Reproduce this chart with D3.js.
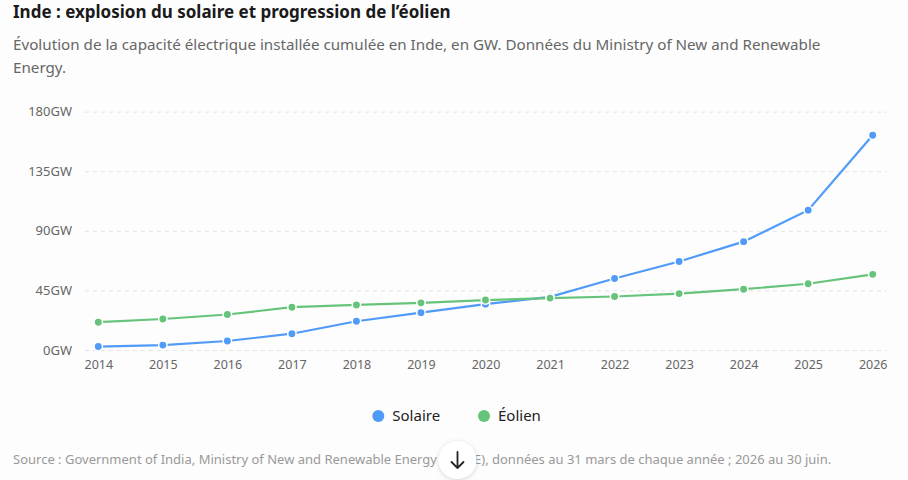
<!DOCTYPE html>
<html>
<head>
<meta charset="utf-8">
<script src="https://cdn.jsdelivr.net/npm/d3@7"></script>
<style>
  body { margin: 0; background: #fdfdfd; font-family: "Noto Sans", "Open Sans", sans-serif; }
  svg { display: block; }
</style>
</head>
<body>
<svg id="chart"></svg>
<script>
var years = [2014, 2015, 2016, 2017, 2018, 2019, 2020, 2021, 2022, 2023, 2024, 2025, 2026];
var solaire = [2.6, 3.7, 6.8, 12.3, 21.7, 28.2, 34.6, 40.1, 54.0, 66.8, 81.8, 105.6, 162.1];
var eolien = [21.0, 23.4, 26.8, 32.3, 34.0, 35.6, 37.7, 39.2, 40.4, 42.6, 45.9, 50.0, 57.1];
var yTicks = [0, 45, 90, 135, 180];

var series = [
  { name: "Solaire", color: "#4f9bf7", values: solaire },
  { name: "Éolien", color: "#66c47a", values: eolien }
];

var width = 908, height = 480;
var svg = d3.select("#chart").attr("width", width).attr("height", height);

var x = d3.scaleLinear().domain([2014, 2026]).range([98.3, 872.7]);
var y = d3.scaleLinear().domain([0, 180]).range([350, 111.6]);

// titles
svg.append("text")
  .attr("x", 13).attr("y", 18)
  .attr("font-size", 17).attr("font-weight", "bold").attr("fill", "#1a1a1a")
  .text("Inde : explosion du solaire et progression de l’éolien");

var sub = svg.append("text")
  .attr("font-size", 15.2).attr("fill", "#666");
sub.append("tspan").attr("x", 13).attr("y", 50)
  .text("Évolution de la capacité électrique installée cumulée en Inde, en GW. Données du Ministry of New and Renewable");
sub.append("tspan").attr("x", 13).attr("y", 73).text("Energy.");

// grid + y axis
var yAxis = svg.append("g")
  .attr("transform", "translate(85,0)")
  .call(d3.axisLeft(y).tickValues(yTicks).tickSize(-802).tickPadding(13).tickFormat(function (d) { return d + "GW"; }));
yAxis.select(".domain").remove();
yAxis.selectAll(".tick line").attr("stroke", "#e3e3e3").attr("stroke-dasharray", "4,4");
yAxis.selectAll(".tick text").attr("fill", "#666").attr("font-size", 13).attr("font-family", "Noto Sans");

// x axis
var xAxis = svg.append("g")
  .attr("transform", "translate(0,350)")
  .call(d3.axisBottom(x).tickValues(years).tickSize(0).tickPadding(10).tickFormat(d3.format("d")));
xAxis.select(".domain").remove();
xAxis.selectAll(".tick text").attr("fill", "#666").attr("font-size", 12.5).attr("font-family", "Noto Sans");

var line = d3.line()
  .x(function (d, i) { return x(years[i]); })
  .y(function (d) { return y(d); });

series.forEach(function (s) {
  var g = svg.append("g");
  g.append("path")
    .attr("d", line(s.values))
    .attr("fill", "none")
    .attr("stroke", s.color)
    .attr("stroke-width", 2.2);
  g.selectAll("circle")
    .data(s.values)
    .enter().append("circle")
    .attr("cx", function (d, i) { return x(years[i]); })
    .attr("cy", function (d) { return y(d); })
    .attr("r", 4.2)
    .attr("fill", s.color)
    .attr("stroke", "#fff")
    .attr("stroke-width", 1.5);
});

// legend
var legendPos = [378.3, 484];
series.forEach(function (s, i) {
  svg.append("circle")
    .attr("cx", legendPos[i]).attr("cy", 416).attr("r", 6)
    .attr("fill", s.color);
  svg.append("text")
    .attr("x", legendPos[i] + 14).attr("y", 421)
    .attr("font-size", 15).attr("fill", "#222")
    .text(s.name);
});

// source
svg.append("text")
  .attr("x", 13).attr("y", 464)
  .attr("font-size", 13).attr("fill", "#999")
  .text("Source : Government of India, Ministry of New and Renewable Energy (MNRE), données au 31 mars de chaque année ; 2026 au 30 juin.");

// scroll button
var defs = svg.append("defs");
var f = defs.append("filter").attr("id", "sh").attr("x", "-50%").attr("y", "-50%").attr("width", "200%").attr("height", "200%");
f.append("feDropShadow").attr("dx", 0).attr("dy", 1).attr("stdDeviation", 2).attr("flood-color", "#000").attr("flood-opacity", 0.18);
var btn = svg.append("g").attr("transform", "translate(457.5,460)");
btn.append("circle").attr("r", 19).attr("fill", "#fff").attr("filter", "url(#sh)");
btn.append("path")
  .attr("d", "M0,-8 L0,8 M-6,2 L0,8 L6,2")
  .attr("fill", "none").attr("stroke", "#222").attr("stroke-width", 1.8)
  .attr("stroke-linecap", "round").attr("stroke-linejoin", "round");
</script>
</body>
</html>
